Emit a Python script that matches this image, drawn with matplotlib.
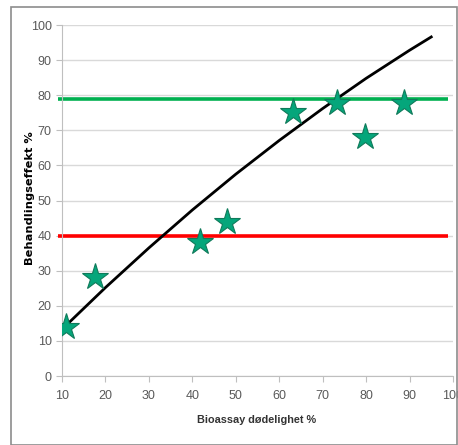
import matplotlib.pyplot as plt
from matplotlib.patches import Rectangle

plt.rcParams['font.family'] = ['Liberation Sans', 'DejaVu Sans']

# maalte punkter
bioassay = [11, 17.6, 41.8, 48, 63.2, 73.3, 79.8, 88.8]
effekt = [14, 28.2, 38.2, 43.9, 75.2, 77.8, 68, 77.8]

# trendlinje aflaest fra figuren
trend_x = [11, 20, 30, 40, 50, 60, 70, 80, 90, 95]
trend_y = [14.5, 25.2, 36.5, 47.3, 57.5, 67.1, 76.2, 84.8, 92.8, 96.6]

# graenser
groen_graense = 79
roed_graense = 40

fig = plt.figure(figsize=(4.58, 4.45), dpi=100)
ax = fig.add_axes([0.1354, 0.155, 0.8536, 0.7888])

# ramme rundt om diagrammet
fig.patches.append(Rectangle((11/458, 0), 1 - 11/458 - 0.002, 1 - 7/445,
                             transform=fig.transFigure, fill=False,
                             edgecolor='#8c8c8c', lw=1.2))

ax.hlines(groen_graense, 9.1, 98.8, colors='#00B050', lw=2.6, clip_on=False, zorder=2)
ax.hlines(roed_graense, 9.1, 98.8, colors='#FF0000', lw=2.6, clip_on=False, zorder=2)
ax.plot(trend_x, trend_y, color='black', lw=2, zorder=3)
ax.plot(bioassay, effekt, linestyle='none', marker='*', ms=20,
        markerfacecolor='#05A67B', markeredgecolor='#0F7A5A', mew=0.8, zorder=4)

ax.set_xlim(10, 100)
ax.set_ylim(0, 100)
ax.set_xticks(range(10, 101, 10))
ax.set_yticks(range(0, 101, 10))
ax.grid(axis='y', color='#D9D9D9', lw=1)
ax.set_axisbelow(True)
for s in ['top', 'right']:
    ax.spines[s].set_visible(False)
for s in ['left', 'bottom']:
    ax.spines[s].set_color('#BFBFBF')
ax.tick_params(colors='#BFBFBF', labelcolor='#595959', labelsize=9, length=4)
ax.tick_params(axis='x', pad=6)

fig.text(257/458, 1 - 420/445, 'Bioassay dødelighet %', fontsize=7.8, fontweight='bold',
         color='#333333', ha='center', va='center')
fig.text(30/458, 1 - 198/445, 'Behandlingseffekt %', fontsize=8.2, fontweight='bold',
         color='black', family=['DejaVu Sans'], rotation=90, ha='center', va='center')

fig.savefig('out.png', dpi=100)
